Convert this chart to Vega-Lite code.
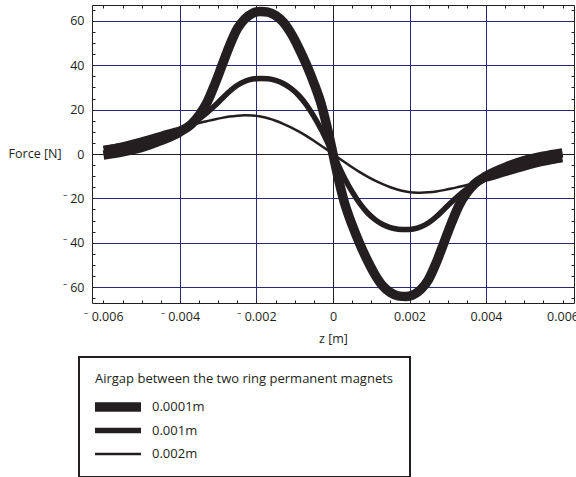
{
  "$schema": "https://vega.github.io/schema/vega-lite/v6.json",
  "autosize": "none",
  "padding": {"left": 92, "top": 5, "right": 2, "bottom": 174},
  "width": 482,
  "height": 298,
  "background": "white",
  "config": {
    "view": {"stroke": "#231f20", "strokeWidth": 1},
    "font": "Open Sans",
    "axis": {"labelFont": "Open Sans", "labelFontSize": 12.5, "labelColor": "#231f20", "titleFont": "Open Sans", "titleFontSize": 12.5, "titleFontWeight": "normal", "titleColor": "#231f20", "tickColor": "#231f20", "domain": false}
  },
  "data": {"values": [
    {"z": -0.006, "F": -0.5, "g": "0.0001m"}, {"z": -0.0055, "F": 1, "g": "0.0001m"}, {"z": -0.005, "F": 3, "g": "0.0001m"}, {"z": -0.0045, "F": 6, "g": "0.0001m"}, {"z": -0.004, "F": 10, "g": "0.0001m"}, {"z": -0.0037, "F": 13.5, "g": "0.0001m"}, {"z": -0.0035, "F": 17.5, "g": "0.0001m"}, {"z": -0.0033, "F": 23, "g": "0.0001m"}, {"z": -0.0031, "F": 31, "g": "0.0001m"}, {"z": -0.0029, "F": 40, "g": "0.0001m"}, {"z": -0.0027, "F": 49, "g": "0.0001m"}, {"z": -0.0025, "F": 56.5, "g": "0.0001m"}, {"z": -0.0023, "F": 61, "g": "0.0001m"}, {"z": -0.0021, "F": 63.5, "g": "0.0001m"}, {"z": -0.0019, "F": 64.3, "g": "0.0001m"}, {"z": -0.0017, "F": 64, "g": "0.0001m"}, {"z": -0.0015, "F": 62.5, "g": "0.0001m"}, {"z": -0.0013, "F": 59.5, "g": "0.0001m"}, {"z": -0.0011, "F": 54.5, "g": "0.0001m"}, {"z": -0.0009, "F": 48, "g": "0.0001m"}, {"z": -0.0007, "F": 40.5, "g": "0.0001m"}, {"z": -0.0005, "F": 32, "g": "0.0001m"}, {"z": -0.0003, "F": 22, "g": "0.0001m"}, {"z": -0.0001, "F": 8, "g": "0.0001m"}, {"z": 0, "F": 0, "g": "0.0001m"},
    {"z": 0.0001, "F": -8, "g": "0.0001m"}, {"z": 0.0003, "F": -22, "g": "0.0001m"}, {"z": 0.0005, "F": -32, "g": "0.0001m"}, {"z": 0.0007, "F": -40.5, "g": "0.0001m"}, {"z": 0.0009, "F": -48, "g": "0.0001m"}, {"z": 0.0011, "F": -54.5, "g": "0.0001m"}, {"z": 0.0013, "F": -59.5, "g": "0.0001m"}, {"z": 0.0015, "F": -62.5, "g": "0.0001m"}, {"z": 0.0017, "F": -64, "g": "0.0001m"}, {"z": 0.0019, "F": -64.3, "g": "0.0001m"}, {"z": 0.0021, "F": -63.5, "g": "0.0001m"}, {"z": 0.0023, "F": -61, "g": "0.0001m"}, {"z": 0.0025, "F": -56.5, "g": "0.0001m"}, {"z": 0.0027, "F": -49, "g": "0.0001m"}, {"z": 0.0029, "F": -40, "g": "0.0001m"}, {"z": 0.0031, "F": -31, "g": "0.0001m"}, {"z": 0.0033, "F": -23, "g": "0.0001m"}, {"z": 0.0035, "F": -17.5, "g": "0.0001m"}, {"z": 0.0037, "F": -13.5, "g": "0.0001m"}, {"z": 0.004, "F": -10, "g": "0.0001m"}, {"z": 0.0045, "F": -6, "g": "0.0001m"}, {"z": 0.005, "F": -3, "g": "0.0001m"}, {"z": 0.0055, "F": -1, "g": "0.0001m"}, {"z": 0.006, "F": 0.5, "g": "0.0001m"},
    {"z": -0.006, "F": 2.5, "g": "0.001m"}, {"z": -0.0055, "F": 3.8, "g": "0.001m"}, {"z": -0.005, "F": 5.5, "g": "0.001m"}, {"z": -0.0045, "F": 8, "g": "0.001m"}, {"z": -0.004, "F": 11, "g": "0.001m"}, {"z": -0.0037, "F": 13.6, "g": "0.001m"}, {"z": -0.0035, "F": 15.8, "g": "0.001m"}, {"z": -0.0033, "F": 18.5, "g": "0.001m"}, {"z": -0.0031, "F": 21.6, "g": "0.001m"}, {"z": -0.0029, "F": 25, "g": "0.001m"}, {"z": -0.0027, "F": 28.3, "g": "0.001m"}, {"z": -0.0025, "F": 31, "g": "0.001m"}, {"z": -0.0023, "F": 32.8, "g": "0.001m"}, {"z": -0.0021, "F": 33.8, "g": "0.001m"}, {"z": -0.0019, "F": 34.1, "g": "0.001m"}, {"z": -0.0017, "F": 33.9, "g": "0.001m"}, {"z": -0.0015, "F": 33.2, "g": "0.001m"}, {"z": -0.0013, "F": 31.8, "g": "0.001m"}, {"z": -0.0011, "F": 29.6, "g": "0.001m"}, {"z": -0.0009, "F": 26.5, "g": "0.001m"}, {"z": -0.0007, "F": 22.3, "g": "0.001m"}, {"z": -0.0005, "F": 17, "g": "0.001m"}, {"z": -0.0003, "F": 10.8, "g": "0.001m"}, {"z": -0.0001, "F": 3.6, "g": "0.001m"}, {"z": 0, "F": 0, "g": "0.001m"},
    {"z": 0.0001, "F": -3.6, "g": "0.001m"}, {"z": 0.0003, "F": -10.8, "g": "0.001m"}, {"z": 0.0005, "F": -17, "g": "0.001m"}, {"z": 0.0007, "F": -22.3, "g": "0.001m"}, {"z": 0.0009, "F": -26.5, "g": "0.001m"}, {"z": 0.0011, "F": -29.6, "g": "0.001m"}, {"z": 0.0013, "F": -31.8, "g": "0.001m"}, {"z": 0.0015, "F": -33.2, "g": "0.001m"}, {"z": 0.0017, "F": -33.9, "g": "0.001m"}, {"z": 0.0019, "F": -34.1, "g": "0.001m"}, {"z": 0.0021, "F": -33.8, "g": "0.001m"}, {"z": 0.0023, "F": -32.8, "g": "0.001m"}, {"z": 0.0025, "F": -31, "g": "0.001m"}, {"z": 0.0027, "F": -28.3, "g": "0.001m"}, {"z": 0.0029, "F": -25, "g": "0.001m"}, {"z": 0.0031, "F": -21.6, "g": "0.001m"}, {"z": 0.0033, "F": -18.5, "g": "0.001m"}, {"z": 0.0035, "F": -15.8, "g": "0.001m"}, {"z": 0.0037, "F": -13.6, "g": "0.001m"}, {"z": 0.004, "F": -11, "g": "0.001m"}, {"z": 0.0045, "F": -8, "g": "0.001m"}, {"z": 0.005, "F": -5.5, "g": "0.001m"}, {"z": 0.0055, "F": -3.8, "g": "0.001m"}, {"z": 0.006, "F": -2.5, "g": "0.001m"},
    {"z": -0.006, "F": 3, "g": "0.002m"}, {"z": -0.0055, "F": 4.8, "g": "0.002m"}, {"z": -0.005, "F": 7, "g": "0.002m"}, {"z": -0.0045, "F": 9.5, "g": "0.002m"}, {"z": -0.004, "F": 12, "g": "0.002m"}, {"z": -0.0037, "F": 13.2, "g": "0.002m"}, {"z": -0.0035, "F": 14, "g": "0.002m"}, {"z": -0.0033, "F": 14.8, "g": "0.002m"}, {"z": -0.0031, "F": 15.6, "g": "0.002m"}, {"z": -0.0029, "F": 16.3, "g": "0.002m"}, {"z": -0.0027, "F": 16.9, "g": "0.002m"}, {"z": -0.0025, "F": 17.3, "g": "0.002m"}, {"z": -0.0023, "F": 17.5, "g": "0.002m"}, {"z": -0.0021, "F": 17.4, "g": "0.002m"}, {"z": -0.0019, "F": 16.9, "g": "0.002m"}, {"z": -0.0017, "F": 16.1, "g": "0.002m"}, {"z": -0.0015, "F": 15, "g": "0.002m"}, {"z": -0.0013, "F": 13.6, "g": "0.002m"}, {"z": -0.0011, "F": 12, "g": "0.002m"}, {"z": -0.0009, "F": 10.2, "g": "0.002m"}, {"z": -0.0007, "F": 8.2, "g": "0.002m"}, {"z": -0.0005, "F": 6, "g": "0.002m"}, {"z": -0.0003, "F": 3.6, "g": "0.002m"}, {"z": -0.0001, "F": 1.2, "g": "0.002m"}, {"z": 0, "F": 0, "g": "0.002m"},
    {"z": 0.0001, "F": -1.2, "g": "0.002m"}, {"z": 0.0003, "F": -3.6, "g": "0.002m"}, {"z": 0.0005, "F": -6, "g": "0.002m"}, {"z": 0.0007, "F": -8.2, "g": "0.002m"}, {"z": 0.0009, "F": -10.2, "g": "0.002m"}, {"z": 0.0011, "F": -12, "g": "0.002m"}, {"z": 0.0013, "F": -13.6, "g": "0.002m"}, {"z": 0.0015, "F": -15, "g": "0.002m"}, {"z": 0.0017, "F": -16.1, "g": "0.002m"}, {"z": 0.0019, "F": -16.9, "g": "0.002m"}, {"z": 0.0021, "F": -17.4, "g": "0.002m"}, {"z": 0.0023, "F": -17.5, "g": "0.002m"}, {"z": 0.0025, "F": -17.3, "g": "0.002m"}, {"z": 0.0027, "F": -16.9, "g": "0.002m"}, {"z": 0.0029, "F": -16.3, "g": "0.002m"}, {"z": 0.0031, "F": -15.6, "g": "0.002m"}, {"z": 0.0033, "F": -14.8, "g": "0.002m"}, {"z": 0.0035, "F": -14, "g": "0.002m"}, {"z": 0.0037, "F": -13.2, "g": "0.002m"}, {"z": 0.004, "F": -12, "g": "0.002m"}, {"z": 0.0045, "F": -9.5, "g": "0.002m"}, {"z": 0.005, "F": -7, "g": "0.002m"}, {"z": 0.0055, "F": -4.8, "g": "0.002m"}, {"z": 0.006, "F": -3, "g": "0.002m"}
  ]},
  "resolve": {"axis": {"x": "independent", "y": "independent"}},
  "layer": [
    {
      "mark": {"type": "line", "interpolate": "monotone", "color": "#231f20"},
      "encoding": {
        "x": {"field": "z", "type": "quantitative", "scale": {"domain": [-0.0063, 0.0063], "nice": false, "zero": false},
          "axis": {"orient": "bottom", "title": "z [m]", "titleY": 35, "titleBaseline": "middle",
            "values": [-0.006, -0.0055, -0.005, -0.0045, -0.004, -0.0035, -0.003, -0.0025, -0.002, -0.0015, -0.001, -0.0005, 0, 0.0005, 0.001, 0.0015, 0.002, 0.0025, 0.003, 0.0035, 0.004, 0.0045, 0.005, 0.0055, 0.006],
            "labelExpr": "abs(round(datum.value*10000)) % 20 == 0 ? (datum.value < 0 ? '⁻ ' : '') + format(abs(datum.value), '~g') : ''",
            "labelOverlap": false, "labelFlush": false, "labelPadding": 10,
            "ticks": true, "tickSize": -3,
            "grid": true,
            "gridColor": {"condition": {"test": "abs(datum.value) < 0.00001", "value": "#231f20"}, "value": "#2a2a78"},
            "gridOpacity": {"condition": {"test": "abs(round(datum.value*10000)) % 20 == 0 && abs(datum.value) < 0.005", "value": 1}, "value": 0}
          }},
        "y": {"field": "F", "type": "quantitative", "scale": {"domain": [-67.2, 67.2], "nice": false, "zero": false},
          "axis": {"orient": "left", "title": "Force [N]", "titleAngle": 0, "titleAlign": "right", "titleBaseline": "middle", "titleX": -31, "titleY": 148,
            "values": [-65, -60, -55, -50, -45, -40, -35, -30, -25, -20, -15, -10, -5, 0, 5, 10, 15, 20, 25, 30, 35, 40, 45, 50, 55, 60, 65],
            "labelExpr": "abs(datum.value) % 20 == 0 ? (datum.value < 0 ? '⁻ ' : '') + format(abs(datum.value), '~g') : ''",
            "labelOverlap": false, "labelFlush": false, "labelPadding": 11,
            "ticks": true, "tickSize": -3,
            "grid": true,
            "gridColor": {"condition": {"test": "datum.value == 0", "value": "#231f20"}, "value": "#2a2a78"},
            "gridOpacity": {"condition": {"test": "abs(datum.value) % 20 == 0", "value": 1}, "value": 0}
          }},
        "strokeWidth": {"field": "g", "type": "ordinal",
          "scale": {"type": "ordinal", "domain": ["0.0001m", "0.001m", "0.002m"], "range": [9.5, 5.5, 2.5]},
          "legend": {"title": "Airgap between the two ring permanent magnets", "titleLimit": 600, "orient": "none", "legendX": -13, "legendY": 352,
            "symbolType": "stroke", "symbolSize": 2209, "clipHeight": 14, "rowPadding": 9.5, "titlePadding": 14, "padding": 16,
            "symbolOffset": -6, "labelOffset": 6, "strokeColor": "#231f20", "fillColor": "white",
            "titleFont": "Open Sans", "titleFontSize": 13, "titleFontWeight": "normal", "titleColor": "#231f20",
            "labelFont": "Open Sans", "labelFontSize": 13, "labelColor": "#231f20", "symbolStrokeColor": "#231f20",
            "encode": {"legend": {"update": {"strokeWidth": {"value": 2}}}}}
        }
      }
    },
    {
      "mark": {"type": "point", "opacity": 0},
      "encoding": {
        "x": {"field": "z", "type": "quantitative",
          "axis": {"orient": "top", "title": null, "labels": false, "grid": false, "ticks": true, "tickSize": -3,
            "values": [-0.006, -0.0055, -0.005, -0.0045, -0.004, -0.0035, -0.003, -0.0025, -0.002, -0.0015, -0.001, -0.0005, 0, 0.0005, 0.001, 0.0015, 0.002, 0.0025, 0.003, 0.0035, 0.004, 0.0045, 0.005, 0.0055, 0.006]}},
        "y": {"field": "F", "type": "quantitative",
          "axis": {"orient": "right", "title": null, "labels": false, "grid": false, "ticks": true, "tickSize": -3,
            "values": [-65, -60, -55, -50, -45, -40, -35, -30, -25, -20, -15, -10, -5, 0, 5, 10, 15, 20, 25, 30, 35, 40, 45, 50, 55, 60, 65]}}
      }
    }
  ]
}
